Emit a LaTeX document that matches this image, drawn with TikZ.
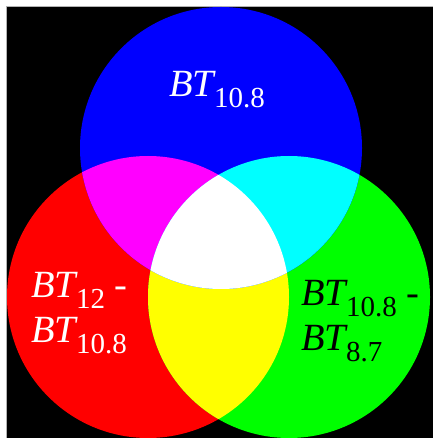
\documentclass[tikz,border=0pt]{standalone}
\usepackage{fontspec}
\setmainfont{Liberation Serif}
\definecolor{pr}{RGB}{255,0,0}
\definecolor{pg}{RGB}{0,255,0}
\definecolor{pb}{RGB}{0,0,255}
\definecolor{py}{RGB}{255,255,0}
\definecolor{pm}{RGB}{255,0,255}
\definecolor{pc}{RGB}{0,255,255}
\newcommand{\bigbt}{\fontsize{38.5}{38.5}\selectfont\itshape BT}
\newcommand{\lowsub}[1]{\raisebox{-11pt}{\fontsize{29}{29}\selectfont\upshape #1}}
\begin{document}
\begin{tikzpicture}[x=1pt,y=-1pt,
  lbl/.style={inner sep=0pt,anchor=base west,font=\fontsize{38.5}{38.5}\selectfont}]
\useasboundingbox (0,0) rectangle (433,438);
\fill[white] (0,0) rectangle (433,438);
\fill[black] (6,6) rectangle (433,438);
\draw[gray!60,line width=0.8pt] (6,438) -- (6,6) -- (433,6);
\def\rC{(148,297) circle[radius=141]}
\def\gC{(289,297) circle[radius=141]}
\def\bC{(221,148) circle[radius=141]}
\begin{scope}
\clip (6,6) rectangle (433,438);
\fill[pr] \rC;
\fill[pg] \gC;
\fill[pb] \bC;
\begin{scope}\clip \rC; \fill[py] \gC; \end{scope}
\begin{scope}\clip \rC; \fill[pm] \bC; \end{scope}
\begin{scope}\clip \gC; \fill[pc] \bC; \end{scope}
\begin{scope}\clip \rC; \clip \gC; \fill[white] \bC; \end{scope}
\end{scope}
\node[lbl,text=white] (tb) at (169,97) {\bigbt\lowsub{10.8}};
\node[lbl,text=white] (tr1) at (31,297) {\bigbt\lowsub{12}\upshape\ -};
\node[lbl,text=white] (tr2) at (31,342) {\bigbt\lowsub{10.8}};
\node[lbl,text=black] (tg1) at (301,305) {\bigbt\lowsub{10.8}\upshape\ -};
\node[lbl,text=black] (tg2) at (301,350) {\bigbt\lowsub{8.7}};
\end{tikzpicture}
\end{document}
